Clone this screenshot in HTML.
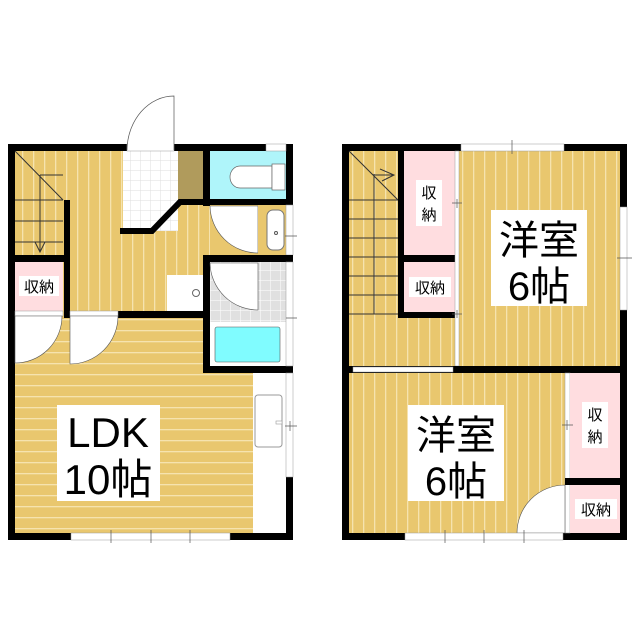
<!DOCTYPE html>
<html><head><meta charset="utf-8"><style>
html,body{margin:0;padding:0;background:#fff;width:640px;height:640px;overflow:hidden}
svg{display:block}
text{font-family:"Liberation Sans","Noto Sans CJK JP",sans-serif;fill:#000}
</style></head><body>
<svg width="640" height="640" viewBox="0 0 640 640" xmlns="http://www.w3.org/2000/svg">
<defs>
<pattern id="vs" width="11" height="11" patternUnits="userSpaceOnUse">
<rect width="11" height="11" fill="#E9C76E"/><rect x="0" width="1.3" height="11" fill="#F6E3AE"/></pattern>
<pattern id="hs" width="11" height="11" patternUnits="userSpaceOnUse">
<rect width="11" height="11" fill="#E9C76E"/><rect y="0" width="11" height="1.3" fill="#F6E3AE"/></pattern>
<pattern id="tile" width="10" height="10" patternUnits="userSpaceOnUse">
<rect width="10" height="10" fill="#fff"/><path d="M0 0H10M0 0V10" stroke="#ddd" stroke-width="1"/></pattern>
<pattern id="gtile" width="10" height="10" patternUnits="userSpaceOnUse">
<rect width="10" height="10" fill="#e0e0e0"/><path d="M0 0H10M0 0V10" stroke="#fff" stroke-width="1"/></pattern>
</defs>

<!-- ===== LEFT PLAN ===== -->
<rect x="8" y="144" width="285" height="396" fill="#000"/>
<rect x="15" y="151" width="271" height="382" fill="url(#vs)"/>
<!-- LDK -->
<rect x="15" y="318" width="238" height="215" fill="url(#hs)"/>
<!-- kitchen counter -->
<rect x="253" y="373" width="33" height="160" fill="#fff"/>
<rect x="255" y="395" width="27" height="52" rx="3" fill="#fff" stroke="#999"/>
<rect x="276" y="421" width="6" height="3" fill="#fff" stroke="#999" stroke-width=".6"/>
<!-- stairs -->
<g stroke="#333" stroke-width="1" fill="none">
<path d="M15 151L63 200M40 175H63M15 200H63M15 221H63M15 242H63M40 175V252M35 242L40 252L45 242"/>
</g>
<rect x="64" y="200" width="6" height="118" fill="#000"/>
<rect x="15" y="255" width="50" height="7" fill="#000"/>
<rect x="15" y="262" width="48" height="49" fill="#FFDDE0"/>
<rect x="19" y="276" width="40" height="20" fill="#fff"/>
<text x="39" y="292" font-size="15" text-anchor="middle">収納</text>
<!-- wall y311 -->
<rect x="118" y="311" width="92" height="7" fill="#000"/>
<rect x="15" y="311" width="48" height="5" fill="#fff" stroke="#999" stroke-width=".5"/>
<rect x="70" y="311" width="48" height="5" fill="#fff" stroke="#999" stroke-width=".5"/>
<path d="M15 316H62A47 47 0 0 1 15 363Z" fill="#fff" stroke="#555" stroke-width=".6"/>
<path d="M70 316H118A48 48 0 0 1 70 364Z" fill="#fff" stroke="#555" stroke-width=".6"/>
<!-- entrance -->
<rect x="123" y="151" width="55" height="80" fill="url(#tile)"/>
<rect x="178" y="151" width="25" height="49" fill="#B09B5C"/>
<path d="M120 231H152L180 202H205" stroke="#000" stroke-width="6" fill="none"/>
<rect x="127" y="144" width="47" height="7" fill="#fff" stroke="#999" stroke-width=".5"/>
<path d="M127 150A47 55 0 0 1 174 96V150" fill="#fff" stroke="#555" stroke-width=".7"/>
<!-- toilet -->
<rect x="203" y="144" width="7" height="62" fill="#000"/>
<rect x="210" y="151" width="76" height="48" fill="#AFF5FA"/>
<rect x="203" y="199" width="90" height="6" fill="#000"/>
<path d="M240 166H272V188H240A10 11 0 0 1 240 166Z" fill="#fff" stroke="#666" stroke-width=".7"/>
<rect x="272" y="164" width="13" height="26" fill="#fff" stroke="#666" stroke-width=".7"/>
<rect x="266" y="144" width="20" height="7" fill="#fff" stroke="#999" stroke-width=".5"/>
<!-- door to toilet -->
<rect x="210" y="205" width="48" height="50" fill="#E9C76E"/>
<path d="M210 206H258V253A48 48 0 0 1 210 206Z" fill="#fff" stroke="#555" stroke-width=".6"/>
<rect x="258" y="205" width="28" height="50" fill="#E9C76E"/>
<rect x="267" y="210" width="17" height="40" rx="6" fill="#fff" stroke="#777"/>
<circle cx="276" cy="233" r="1.5" fill="none" stroke="#555"/>
<rect x="286" y="205" width="7" height="50" fill="#fff" stroke="#999" stroke-width=".5"/>
<!-- washroom -->
<rect x="203" y="255" width="90" height="7" fill="#000"/>
<rect x="203" y="255" width="7" height="118" fill="#000"/>
<rect x="210" y="262" width="76" height="60" fill="url(#gtile)"/>
<path d="M210 263H258V310A48 48 0 0 1 210 263Z" fill="#fff" stroke="#555" stroke-width=".6"/>
<rect x="210" y="322" width="76" height="44" fill="#fff"/>
<rect x="215" y="327" width="65" height="35" rx="2" fill="#80FCFF" stroke="#555" stroke-width=".6"/>
<rect x="203" y="366" width="90" height="7" fill="#000"/>
<rect x="286" y="262" width="7" height="104" fill="#fff" stroke="#999" stroke-width=".5"/>
<rect x="167" y="275" width="36" height="36" fill="#fff"/>
<circle cx="196" cy="293" r="3.5" fill="none" stroke="#666"/>
<!-- right windows & bottom window -->
<rect x="286" y="373" width="7" height="104" fill="#fff" stroke="#999" stroke-width=".5"/>
<rect x="71" y="533" width="159" height="7" fill="#fff" stroke="#999" stroke-width=".5"/>
<path d="M111 530V543M151 530V543M190 530V543M285 426H297M290 421V431M285 236H297M286 318H297" stroke="#555" stroke-width=".7"/>
<!-- LDK label -->
<rect x="57" y="405" width="103" height="96" fill="#fff"/>
<text x="108" y="447" font-size="42" text-anchor="middle">LDK</text>
<text x="108" y="494" font-size="42" text-anchor="middle">10帖</text>

<!-- ===== RIGHT PLAN ===== -->
<rect x="342" y="144" width="285" height="396" fill="#000"/>
<rect x="349" y="151" width="271" height="215" fill="url(#vs)"/>
<rect x="349" y="373" width="271" height="160" fill="url(#vs)"/>
<!-- stairs -->
<g stroke="#333" stroke-width="1" fill="none">
<path d="M349 151L398 200M374 174V314M349 200H398M349 219H398M349 238H398M349 257H398M349 276H398M349 295H398M349 314H398M374 175L394 175M380 169L394 175L382 181"/>
</g>
<rect x="398" y="151" width="6" height="167" fill="#000"/>
<rect x="404" y="151" width="51" height="104" fill="#FFDDE0"/>
<rect x="404" y="255" width="51" height="7" fill="#000"/>
<rect x="404" y="262" width="51" height="50" fill="#FFDDE0"/>
<rect x="398" y="312" width="57" height="6" fill="#000"/>
<rect x="455" y="151" width="4" height="215" fill="#fff" stroke="#999" stroke-width=".5"/>
<rect x="416" y="180" width="26" height="46" fill="#fff"/>
<text x="429" y="198" font-size="15" text-anchor="middle">収</text>
<text x="429" y="220" font-size="15" text-anchor="middle">納</text>
<rect x="409" y="277" width="42" height="20" fill="#fff"/>
<text x="430" y="293" font-size="15" text-anchor="middle">収納</text>
<path d="M452 203H462M457 199V208M452 314H462M457 310V318" stroke="#555" stroke-width=".7"/>
<rect x="461" y="144" width="103" height="7" fill="#fff" stroke="#999" stroke-width=".5"/>
<rect x="620" y="207" width="7" height="103" fill="#fff" stroke="#999" stroke-width=".5"/>
<path d="M512 140V154M617 258H632" stroke="#555" stroke-width=".7"/>
<rect x="491" y="210" width="96" height="96" fill="#fff"/>
<text x="539" y="254" font-size="40" text-anchor="middle">洋室</text>
<text x="539" y="300" font-size="40" text-anchor="middle">6帖</text>
<!-- middle wall -->
<rect x="349" y="366" width="271" height="7" fill="#000"/>
<rect x="353" y="367" width="100" height="5" fill="#fff" stroke="#999" stroke-width=".5"/>
<!-- lower room closets -->
<rect x="565" y="373" width="5" height="160" fill="#fff" stroke="#999" stroke-width=".5"/>
<rect x="570" y="373" width="50" height="105" fill="#FFDDE0"/>
<rect x="565" y="478" width="55" height="7" fill="#000"/>
<rect x="570" y="485" width="50" height="48" fill="#FFDDE0"/>
<rect x="582" y="402" width="26" height="46" fill="#fff"/>
<text x="595" y="420" font-size="15" text-anchor="middle">収</text>
<text x="595" y="442" font-size="15" text-anchor="middle">納</text>
<rect x="575" y="499" width="42" height="20" fill="#fff"/>
<text x="596" y="515" font-size="15" text-anchor="middle">収納</text>
<path d="M562 425H573M567 420V430" stroke="#555" stroke-width=".7"/>
<path d="M517 533A48 48 0 0 1 565 485V533Z" fill="#fff" stroke="#555" stroke-width=".6"/>
<rect x="405" y="533" width="158" height="7" fill="#fff" stroke="#999" stroke-width=".5"/>
<path d="M445 530V543M484 530V543M524 530V543" stroke="#555" stroke-width=".7"/>
<rect x="408" y="405" width="96" height="96" fill="#fff"/>
<text x="456" y="449" font-size="40" text-anchor="middle">洋室</text>
<text x="456" y="495" font-size="40" text-anchor="middle">6帖</text>
</svg>
</body></html>
